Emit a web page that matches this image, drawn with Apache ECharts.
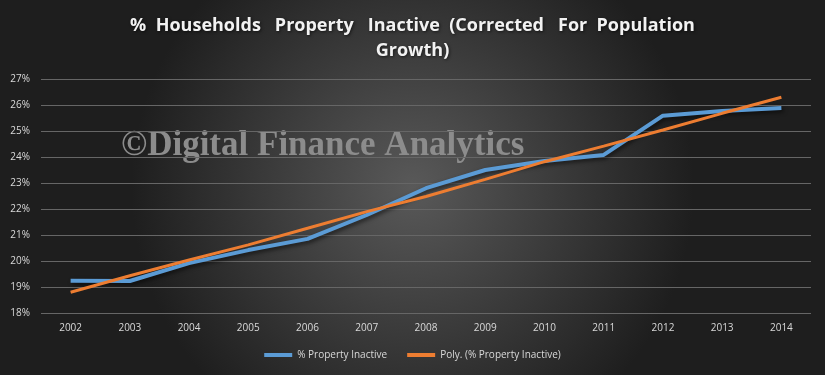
<!DOCTYPE html>
<html>
<head>
<meta charset="utf-8">
<script src="https://cdn.jsdelivr.net/npm/echarts@6/dist/echarts.min.js"></script>
<style>
	html, body { margin: 0; padding: 0; }
	#chart { width: 825px; height: 375px; }
</style>
</head>
<body>
<div id="chart"></div>
<script>
	// 数据
	var years = ['2002', '2003', '2004', '2005', '2006', '2007', '2008', '2009', '2010', '2011', '2012', '2013', '2014'];
	var inactive = [19.24, 19.23, 19.92, 20.42, 20.85, 21.77, 22.8, 23.5, 23.85, 24.08, 25.59, 25.77, 25.88];
	var polyTrend = [18.8, 19.43, 20.04, 20.62, 21.26, 21.9, 22.48, 23.14, 23.82, 24.42, 25.04, 25.68, 26.3];
	var seriesNames = ['% Property Inactive', 'Poly. (% Property Inactive)'];

	var textColor = '#d9d9d9';
	var myChart = echarts.init(document.getElementById('chart'));
	var option = {
		backgroundColor: {
			type: 'radial',
			x: 0.5, y: 0.5, r: 0.75,
			colorStops: [
				{ offset: 0, color: '#595959' },
				{ offset: 1, color: '#1e1e1e' }
			]
		},
		title: {
			text: '%  Households   Property   Inactive  (Corrected   For  Population\nGrowth)',
			left: 'center',
			top: 8,
			textStyle: {
				color: '#f2f2f2',
				fontFamily: 'Open Sans',
				fontWeight: 'bold',
				fontSize: 18,
				lineHeight: 25,
				textShadowColor: 'rgba(0,0,0,0.6)',
				textShadowBlur: 3,
				textShadowOffsetX: 1,
				textShadowOffsetY: 1
			}
		},
		graphic: [{
			type: 'text',
			left: 121,
			top: 128,
			z: 0,
			style: {
				text: '©Digital Finance Analytics',
				fill: '#8c8c8c',
				font: 'bold 35px "Liberation Serif"'
			}
		}],
		legend: {
			bottom: 10,
			left: 'center',
			itemWidth: 28,
			itemHeight: 4,
			itemGap: 20,
			icon: 'rect',
			textStyle: { color: textColor, fontSize: 10, fontFamily: 'Open Sans' },
			data: seriesNames
		},
		grid: {
			left: 41,
			right: 14,
			top: 79,
			bottom: 62
		},
		xAxis: {
			type: 'category',
			data: years,
			axisLine: { show: false },
			axisTick: { show: false },
			axisLabel: { color: textColor, fontSize: 10, fontFamily: 'Open Sans', margin: 10 }
		},
		yAxis: {
			type: 'value',
			min: 18,
			max: 27,
			interval: 1,
			axisLine: { show: false },
			axisTick: { show: false },
			axisLabel: {
				color: textColor, fontSize: 10, fontFamily: 'Open Sans', margin: 11,
				formatter: function(v) { return v + '%'; }
			},
			splitLine: { lineStyle: { color: '#666666', width: 1 } }
		},
		series: [{
			name: seriesNames[0],
			type: 'line',
			data: inactive,
			symbol: 'none',
			color: '#5b9bd5',
			lineStyle: {
				width: 4,
				color: '#5b9bd5',
				shadowColor: 'rgba(0,0,0,0.6)',
				shadowBlur: 4,
				shadowOffsetX: 2,
				shadowOffsetY: 2
			},
			z: 3
		}, {
			name: seriesNames[1],
			type: 'line',
			data: polyTrend,
			symbol: 'none',
			color: '#ed7d31',
			lineStyle: { width: 3, color: '#ed7d31' },
			z: 4
		}]
	};
	myChart.setOption(option);
</script>
</body>
</html>
